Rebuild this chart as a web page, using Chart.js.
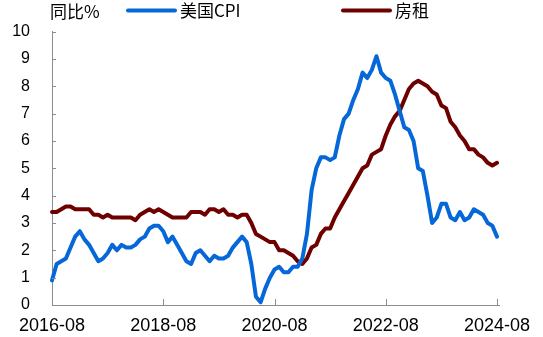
<!DOCTYPE html>
<html>
<head>
<meta charset="utf-8">
<script src="https://cdn.jsdelivr.net/npm/chart.js@4"></script>
<style>
  html, body { margin: 0; padding: 0; background: #fff; }
  #wrap { width: 543px; height: 337px; }
</style>
</head>
<body>
<div id="wrap"><canvas id="chart" width="543" height="337"></canvas></div>
<script>
// Data (monthly YoY %, 2016-08 .. 2024-08)
const startYear = 2016;
const startMonth = 8;
const tickLabels = ['2016-08', '2018-08', '2020-08', '2022-08', '2024-08'];
const yTicks = [0, 1, 2, 3, 4, 5, 6, 7, 8, 9, 10];

const cpi = [
  0.9, 1.5, 1.6, 1.7, 2.1,
  2.5, 2.7, 2.4, 2.2, 1.9, 1.6, 1.7, 1.9, 2.2, 2.0, 2.2, 2.1,
  2.1, 2.2, 2.4, 2.5, 2.8, 2.9, 2.9, 2.7, 2.3, 2.5, 2.2, 1.9,
  1.6, 1.5, 1.9, 2.0, 1.8, 1.6, 1.8, 1.7, 1.7, 1.8, 2.1, 2.3,
  2.5, 2.3, 1.5, 0.3, 0.1, 0.6, 1.0, 1.3, 1.4, 1.2, 1.2, 1.4,
  1.4, 1.7, 2.6, 4.2, 5.0, 5.4, 5.4, 5.3, 5.4, 6.2, 6.8, 7.0,
  7.5, 7.9, 8.5, 8.3, 8.6, 9.1, 8.5, 8.3, 8.2, 7.7, 7.1, 6.5,
  6.4, 6.0, 5.0, 4.9, 4.0, 3.0, 3.2, 3.7, 3.7, 3.2, 3.1, 3.4,
  3.1, 3.2, 3.5, 3.4, 3.3, 3.0, 2.9, 2.5
];

const rent = [
  3.4, 3.4, 3.5, 3.6, 3.6,
  3.5, 3.5, 3.5, 3.5, 3.3, 3.3, 3.2, 3.3, 3.2, 3.2, 3.2, 3.2,
  3.2, 3.1, 3.3, 3.4, 3.5, 3.4, 3.5, 3.4, 3.3, 3.2, 3.2, 3.2,
  3.2, 3.4, 3.4, 3.4, 3.3, 3.5, 3.5, 3.4, 3.5, 3.3, 3.3, 3.2,
  3.3, 3.3, 3.0, 2.6, 2.5, 2.4, 2.3, 2.3, 2.0, 2.0, 1.9, 1.8,
  1.6, 1.5, 1.7, 2.1, 2.2, 2.6, 2.8, 2.8, 3.2, 3.5, 3.8, 4.1,
  4.4, 4.7, 5.0, 5.1, 5.5, 5.6, 5.7, 6.2, 6.6, 6.9, 7.1, 7.5,
  7.9, 8.1, 8.2, 8.1, 8.0, 7.8, 7.7, 7.3, 7.2, 6.7, 6.5, 6.2,
  6.0, 5.7, 5.7, 5.5, 5.4, 5.2, 5.1, 5.2
];

// month labels
const months = [];
for (let i = 0; i < cpi.length; i++) {
  const m = startMonth - 1 + i;
  const y = startYear + Math.floor(m / 12);
  const mm = (m % 12) + 1;
  months.push(y + '-' + String(mm).padStart(2, '0'));
}

const CJK = '"Noto Sans CJK SC", "Noto Sans", sans-serif';
const LATIN = '"Liberation Sans", Arial, sans-serif';
const axisGray = '#8c8c8c';
const blue = '#0667D8';
const red = '#6E0000';

// header text + legend, and inner tick marks
const decorPlugin = {
  id: 'decor',
  afterDraw(chart) {
    const ctx = chart.ctx;
    const xs = chart.scales.x;
    const ys = chart.scales.y;
    const area = chart.chartArea;

    ctx.save();
    ctx.strokeStyle = axisGray;
    ctx.lineWidth = 1;
    ctx.beginPath();
    ys.ticks.forEach(t => {
      const py = Math.round(ys.getPixelForValue(t.value)) + 0.5;
      ctx.moveTo(area.left, py);
      ctx.lineTo(area.left + 4, py);
    });
    xs.ticks.forEach(t => {
      const px = Math.round(xs.getPixelForValue(t.value)) + 0.5;
      ctx.moveTo(px, area.bottom);
      ctx.lineTo(px, area.bottom - 6);
    });
    ctx.moveTo(area.right, area.bottom + 0.5);
    ctx.lineTo(area.right + 3, area.bottom + 0.5);
    ctx.stroke();

    // unit label
    ctx.fillStyle = '#000';
    ctx.font = '17px ' + CJK;
    ctx.textBaseline = 'middle';
    ctx.textAlign = 'left';
    ctx.fillText('同比%', 50, 12);

    // legend
    const items = [
      { x: 128, label: chart.data.datasets[0].label, color: blue },
      { x: 343, label: chart.data.datasets[1].label, color: red }
    ];
    items.forEach(it => {
      ctx.strokeStyle = it.color;
      ctx.lineWidth = 4;
      ctx.lineCap = 'round';
      ctx.beginPath();
      ctx.moveTo(it.x, 10.5);
      ctx.lineTo(it.x + 47, 10.5);
      ctx.stroke();
      ctx.fillStyle = '#000';
      ctx.fillText(it.label, it.x + 52, 11);
    });
    ctx.restore();
  }
};

const ctx = document.getElementById('chart').getContext('2d');
new Chart(ctx, {
  type: 'line',
  data: {
    labels: months,
    datasets: [
      {
        label: '美国CPI',
        data: cpi,
        borderColor: blue,
        borderWidth: 4,
        pointRadius: 0,
        tension: 0,
        borderJoinStyle: 'round',
        borderCapStyle: 'round'
      },
      {
        label: '房租',
        data: rent,
        borderColor: red,
        borderWidth: 4,
        pointRadius: 0,
        tension: 0,
        borderJoinStyle: 'round',
        borderCapStyle: 'round'
      }
    ]
  },
  options: {
    responsive: false,
    animation: false,
    events: [],
    layout: { padding: { top: 26, right: 46, left: 0, bottom: 0 } },
    plugins: {
      legend: { display: false },
      tooltip: { enabled: false }
    },
    scales: {
      x: {
        type: 'category',
        offset: false,
        afterBuildTicks: scale => {
          scale.ticks = scale.ticks.filter(t => tickLabels.includes(months[t.value]));
        },
        afterFit: scale => { scale.height = 32; },
        grid: { display: true, drawOnChartArea: false, drawTicks: false },
        border: { display: true, color: axisGray, width: 1 },
        ticks: {
          autoSkip: false,
          maxRotation: 0,
          padding: 10,
          color: '#000',
          font: { family: LATIN, size: 18 }
        }
      },
      y: {
        min: 0,
        max: 10,
        afterBuildTicks: scale => {
          scale.ticks = yTicks.map(v => ({ value: v }));
        },
        afterFit: scale => { scale.width = 52; },
        grid: { display: true, drawOnChartArea: false, drawTicks: false },
        border: { display: true, color: axisGray, width: 1 },
        ticks: {
          padding: 22,
          color: '#000',
          font: { family: LATIN, size: 16 }
        }
      }
    }
  },
  plugins: [decorPlugin]
});
</script>
</body>
</html>
